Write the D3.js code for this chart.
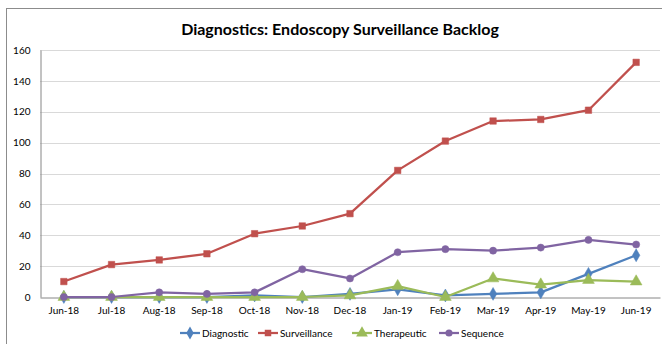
<!DOCTYPE html>
<html><head><meta charset="utf-8">
<script src="https://cdn.jsdelivr.net/npm/d3@7"></script>
<style>body{margin:0;background:#fff}svg{display:block}text{font-family:Lato,"Open Sans",sans-serif}</style>
</head><body><svg id="c" width="662" height="344"></svg>
<script>
const months = ["Jun-18","Jul-18","Aug-18","Sep-18","Oct-18","Nov-18","Dec-18","Jan-19","Feb-19","Mar-19","Apr-19","May-19","Jun-19"];
const diagnostic   = [0,0,0,0,1,0,2,5,1,2,3,15,27];
const surveillance = [10,21,24,28,41,46,54,82,101,114,115,121,152];
const therapeutic  = [0,0,0,0,0,0,1,7,0,12,8,11,10];
const sequence     = [0,0,3,2,3,18,12,29,31,30,32,37,34];
const yTicks = [0,20,40,60,80,100,120,140,160];
const seriesNames = ["Diagnostic","Surveillance","Therapeutic","Sequence"];

const series = [
  {name:seriesNames[0], values:diagnostic, color:"#4F81BD", sym:d3.symbolDiamond, size:48},
  {name:seriesNames[1], values:surveillance, color:"#C0504D", sym:d3.symbolSquare, size:42},
  {name:seriesNames[2], values:therapeutic, color:"#9BBB59", sym:d3.symbolTriangle, size:60},
  {name:seriesNames[3], values:sequence, color:"#8064A2", sym:d3.symbolCircle, size:40}
];

const svg = d3.select("#c");
svg.append("rect").attr("x",6.5).attr("y",8.5).attr("width",680).attr("height",360)
  .attr("fill","#fff").attr("stroke","#8c8c8c").attr("stroke-width",1);

const L=40, R=660, T=50, B=297;
const x = d3.scaleBand().domain(months).range([L,R]);
const y = d3.scaleLinear().domain([0,160]).range([B,T]);

svg.append("text").attr("x",340).attr("y",35).attr("text-anchor","middle")
  .attr("font-size",16).attr("font-weight","bold").attr("fill","#000")
  .text("Diagnostics: Endoscopy Surveillance Backlog");

// gridlines
svg.append("g").selectAll("line").data(yTicks.filter(d=>d>0)).join("line")
  .attr("x1",L).attr("x2",R).attr("y1",d=>Math.round(y(d))+0.5).attr("y2",d=>Math.round(y(d))+0.5)
  .attr("stroke","#d9d9d9").attr("stroke-width",1);

// y axis
const ya = svg.append("g").attr("transform",`translate(${L+0.5},0)`)
  .call(d3.axisLeft(y).tickValues(yTicks).tickSize(0).tickPadding(10));
ya.select(".domain").attr("stroke","#868686");
ya.selectAll("text").attr("font-size",10).attr("fill","#000").attr("font-family","Lato,sans-serif");

// x axis
const xa = svg.append("g").attr("transform",`translate(0,${Math.round(B)+0.5})`)
  .call(d3.axisBottom(x).tickSize(0).tickPadding(9));
xa.select(".domain").attr("stroke","#868686");
xa.selectAll("text").attr("font-size",10).attr("fill","#000").attr("font-family","Lato,sans-serif");

const cx = m => x(m)+x.bandwidth()/2;
const line = d3.line().x((d,i)=>cx(months[i])).y(d=>y(d));

series.forEach(s=>{
  const g = svg.append("g");
  g.append("path").attr("d",line(s.values)).attr("fill","none")
    .attr("stroke",s.color).attr("stroke-width",2.25).attr("stroke-linejoin","round");
  g.selectAll("path.m").data(s.values).join("path").attr("class","m")
    .attr("d",d3.symbol().type(s.sym).size(s.size))
    .attr("transform",(d,i)=>`translate(${cx(months[i])},${y(d)})`)
    .attr("fill",s.color).attr("stroke",s.color).attr("stroke-width",0.5);
});

// legend
const legX = [180,258,352,439];
const lg = svg.append("g");
series.forEach((s,i)=>{
  const g = lg.append("g").attr("transform",`translate(${legX[i]},333)`);
  g.append("line").attr("x1",0).attr("x2",20).attr("stroke",s.color).attr("stroke-width",2.25);
  g.append("path").attr("d",d3.symbol().type(s.sym).size(s.size)).attr("transform","translate(10,0)").attr("fill",s.color);
  g.append("text").attr("x",22).attr("y",3.5).attr("font-size",10).attr("fill","#000").text(s.name);
});
</script></body></html>
